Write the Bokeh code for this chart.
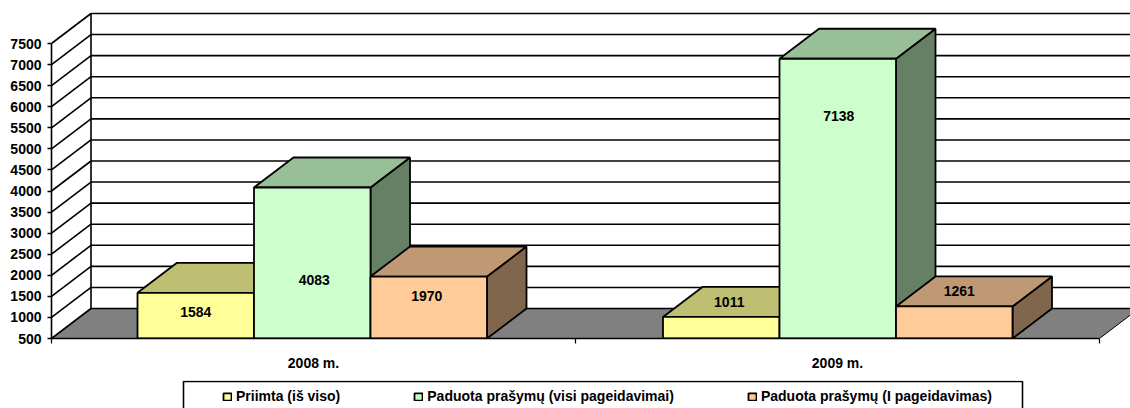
from bokeh.plotting import figure
from bokeh.layouts import column
from bokeh.models import Range1d, LinearAxis, FixedTicker, ColumnDataSource, Legend, LegendItem
from bokeh.core.properties import value
from bokeh.embed import file_html
from bokeh.resources import INLINE

YEARS = ["2008 m.", "2009 m."]
SERIES = ["Priimta (iš viso)", "Paduota prašymų (visi pageidavimai)", "Paduota prašymų (I pageidavimas)"]
VALUES = [[1584, 4083, 1970], [1011, 7138, 1261]]
Y_TICKS = list(range(500, 8000, 500))

FRONT = ["#FFFF99", "#CCFFCC", "#FFCC99"]
TOP = ["#BFBF73", "#99BF99", "#BF9973"]
SIDE = ["#80804D", "#668066", "#80664D"]
# label shifts in pixels from the bar centre: (right, down)
LABEL_SHIFT = [[(0, -4), (2, 17), (-2, -12)], [(8, -26), (1, -83), (5, -31)]]

FONT = "Liberation Sans"
W, H = 1130, 380
L, T, B = 51, 0, 42                 # the frame holds the chart; the legend strip follows below
PX_X = 524.0                        # pixels for one category
PX_Y = 295.0 / 7000.0               # pixels for one value unit
DX, DY = 39.5 / PX_X, 30 / PX_Y     # depth of the 3-D box in data units
BAR = 116.5 / PX_X                  # bar width in data units
GROUP_START = [86 / PX_X, 1 + 87.5 / PX_X]  # where each category's first bar begins

x_end = (W - L) / PX_X
y_top = 500 + (H - B - T) / PX_Y

p = figure(width=W, height=H, output_backend="svg", toolbar_location=None,
           x_range=Range1d(0, x_end), y_range=Range1d(500, y_top), x_axis_type=None, y_axis_type=None,
           min_border_left=L, min_border_right=0, min_border_top=T, min_border_bottom=B,
           outline_line_color=None, background_fill_color="white", border_fill_color="white")
p.grid.visible = False

# floor, drawn first so the walls' lines sit on it
p.patch([0, DX, x_end + DX, 2 + DX, 2], [500, 500 + DY, 500 + DY, 500 + DY, 500],
        fill_color="#808080", line_color="black", line_width=1)

# walls' grid
top = Y_TICKS[-1]
p.segment(x0=[DX] * len(Y_TICKS), y0=[v + DY for v in Y_TICKS], x1=[x_end] * len(Y_TICKS),
          y1=[v + DY for v in Y_TICKS], line_color="black", line_width=1.6)
p.segment(x0=[0] * len(Y_TICKS), y0=Y_TICKS, x1=[DX] * len(Y_TICKS),
          y1=[v + DY for v in Y_TICKS], line_color="black", line_width=1.6)
p.segment(x0=[DX], y0=[500 + DY], x1=[DX], y1=[top + DY], line_color="black", line_width=1.6)

# bars
for s in range(3):
    lefts = [GROUP_START[c] + s * BAR for c in range(2)]
    rights = [l + BAR for l in lefts]
    tops = [VALUES[c][s] for c in range(2)]
    p.patches([[r, r + DX, r + DX, r] for r in rights],
              [[500, 500 + DY, t + DY, t] for t in tops],
              fill_color=SIDE[s], line_color="black", line_width=1.8)
    p.patches([[l, l + DX, r + DX, r] for l, r in zip(lefts, rights)],
              [[t, t + DY, t + DY, t] for t in tops],
              fill_color=TOP[s], line_color="black", line_width=1.8)
    p.quad(left=lefts, right=rights, bottom=[500, 500], top=tops,
           fill_color=FRONT[s], line_color="black", line_width=1.8)

# value labels
xs, ys, txt, xo, yo = [], [], [], [], []
for c in range(2):
    for s in range(3):
        xs.append(GROUP_START[c] + (s + 0.5) * BAR)
        ys.append((500 + VALUES[c][s]) / 2)
        txt.append(str(VALUES[c][s]))
        xo.append(LABEL_SHIFT[c][s][0])
        yo.append(LABEL_SHIFT[c][s][1])
p.text(x="x", y="y", text="t", x_offset="xo", y_offset="yo",
       source=ColumnDataSource(dict(x=xs, y=ys, t=txt, xo=xo, yo=yo)),
       text_font=value(FONT), text_font_style="bold", text_font_size="14px",
       text_align="center", text_baseline="middle", text_color="black")

# y axis
ya = LinearAxis(ticker=FixedTicker(ticks=Y_TICKS), bounds=(500, top))
ya.axis_line_width = 1.6
ya.major_tick_line_width = 1.6
ya.major_tick_out = 4
ya.major_tick_in = 0
ya.minor_tick_line_color = None
ya.major_label_standoff = 6
ya.major_label_text_color = "black"
ya.major_label_text_font = FONT
ya.major_label_text_font_style = "bold"
ya.major_label_text_font_size = "14px"
p.add_layout(ya, "left")

# x axis: minor ticks between the categories, names at the unmarked major ticks
xa = LinearAxis(ticker=FixedTicker(ticks=[0.5, 1.5], minor_ticks=[0, 1, 2]), bounds=(0, 2),
                major_label_overrides={0.5: YEARS[0], 1.5: YEARS[1]})
xa.axis_line_width = 1.6
xa.major_tick_line_color = None
xa.major_tick_out = 0
xa.major_tick_in = 0
xa.minor_tick_line_color = "black"
xa.minor_tick_line_width = 1.2
xa.minor_tick_out = 5
xa.minor_tick_in = 0
xa.major_label_standoff = 11
xa.major_label_text_color = "black"
xa.major_label_text_font = FONT
xa.major_label_text_font_style = "bold"
xa.major_label_text_font_size = "14px"
p.add_layout(xa, "below")

# legend strip, cut by the bottom edge of the picture as in the reference
q = figure(width=W, height=28, output_backend="svg", toolbar_location=None,
           x_range=Range1d(L, W), y_range=Range1d(0, 28), x_axis_type=None, y_axis_type=None,
           min_border=0, outline_line_color=None, background_fill_color="white",
           border_fill_color="white")
q.grid.visible = False
q.quad(left=[183], right=[1022], bottom=[-6], top=[27], fill_color="white",
       line_color="black", line_width=1.6)
items = []
for s in range(3):
    r = q.quad(left=[float("nan")], right=[float("nan")], bottom=[float("nan")], top=[float("nan")],
               fill_color=FRONT[s], line_color="black", line_width=1.8)
    items.append(LegendItem(label=SERIES[s], renderers=[r]))
leg = Legend(items=items, orientation="horizontal", location=(171, 4),
             background_fill_alpha=0, border_line_alpha=0, padding=0, margin=0,
             spacing=73, glyph_width=10, glyph_height=9, label_standoff=4,
             label_text_font=FONT, label_text_font_style="bold", label_text_font_size="14px",
             label_text_color="black", label_height=10)
q.add_layout(leg, "center")

open("out.html", "w").write(file_html(column(p, q, spacing=0), INLINE))
